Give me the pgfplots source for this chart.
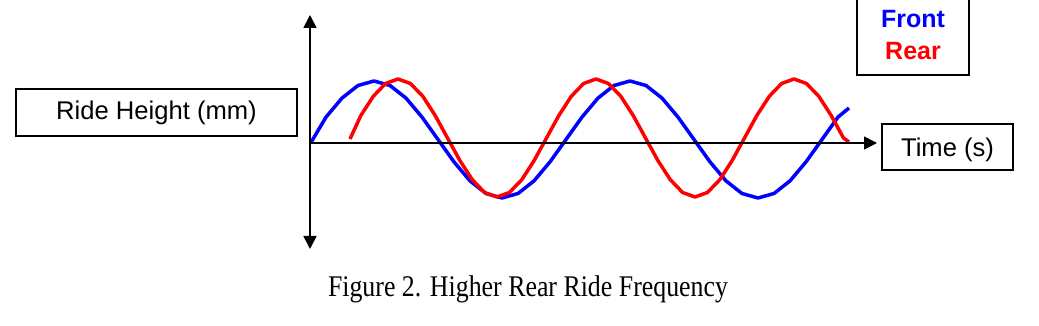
\documentclass[border=0pt]{standalone}
\usepackage{pgfplots}
\pgfplotsset{compat=1.18}
\usepackage{graphicx}
\usepackage{fontspec}
\setmainfont{Liberation Sans}
\newfontfamily\capfont{Liberation Serif}
\usetikzlibrary{arrows.meta}
\definecolor{fblue}{RGB}{0,0,255}
\definecolor{rred}{RGB}{255,0,0}
\begin{document}
\begin{tikzpicture}
\begin{axis}[
  scale only axis, width=1039pt, height=326pt,
  xmin=0, xmax=1039, ymin=-183, ymax=143,
  hide axis, clip=false,
]
% Front (blue)
\addplot[fblue, line width=3.5pt, line join=round] coordinates {
(311,0.5) (326,25.9) (342,44.9) (358,57.5) (374,62.0) (390,57.5) (406,44.9) (422,25.9)
(438,3.5) (454,-18.9) (470,-37.9) (486,-50.5) (502,-55.0) (518,-50.5) (534,-37.9) (550,-18.9)
(566,3.5) (582,25.9) (598,44.9) (614,57.5) (630,62.0) (646,57.5) (662,44.9) (678,25.9)
(694,3.5) (710,-18.9) (726,-37.9) (742,-50.5) (758,-55.0) (774,-50.5) (790,-37.9) (806,-18.9)
(822,3.5) (838,25.9) (849,35)
};
% Rear (red)
\addplot[rred, line width=3.5pt, line join=round] coordinates {
(350,4) (360.9,27.6) (373.3,46.7) (385.6,59.5) (398.0,64) (410.4,59.5) (422.8,46.7) (435.1,27.6)
(447.5,5) (459.9,-17.6) (472.3,-36.7) (484.6,-49.5) (497.0,-54) (509.4,-49.5) (521.8,-36.7) (534.1,-17.6)
(546.5,5) (558.9,27.6) (571.3,46.7) (583.6,59.5) (596.0,64) (608.4,59.5) (620.8,46.7) (633.1,27.6)
(645.5,5) (657.9,-17.6) (670.3,-36.7) (682.6,-49.5) (695.0,-54) (707.4,-49.5) (719.8,-36.7) (732.1,-17.6)
(744.5,5) (756.9,27.6) (769.3,46.7) (781.6,59.5) (794.0,64) (806.4,59.5) (818.8,46.7) (831.1,27.6)
(843.5,5) (849,1)
};
% axes with arrows
\draw[line width=1.6pt, {Triangle[length=13pt,width=13pt]}-{Triangle[length=13pt,width=13pt]}]
  (axis cs:310,-106) -- (axis cs:310,128);
\draw[line width=1.6pt, -{Triangle[length=13pt,width=13pt]}]
  (axis cs:310,0) -- (axis cs:877,0);
% boxes
\draw[line width=2pt] (axis cs:16,54) rectangle (axis cs:297,7);
\node[anchor=base, font=\fontsize{25.6}{30}\selectfont] at (axis cs:156.5,23) {Ride Height (mm)};
\draw[line width=2pt] (axis cs:882,19) rectangle (axis cs:1013,-27);
\node[anchor=base, font=\fontsize{25.6}{30}\selectfont] at (axis cs:947.5,-14) {Time (s)};
\draw[line width=2pt] (axis cs:857,145) -- (axis cs:857,68) -- (axis cs:969,68) -- (axis cs:969,145);
\node[anchor=base, font=\fontsize{25}{30}\selectfont\bfseries, text=fblue] at (axis cs:913,115) {Front};
\node[anchor=base, font=\fontsize{25}{30}\selectfont\bfseries, text=rred] at (axis cs:913,83) {Rear};
% caption
\node[anchor=base, inner sep=0pt] at (axis cs:528,-154) {\scalebox{0.862}[1]{\capfont\fontsize{30}{36}\selectfont Figure 2. Higher Rear Ride Frequency}};
\coordinate (ll) at (axis cs:0,-183);
\coordinate (ur) at (axis cs:1039,143);
\end{axis}
\pgfresetboundingbox
\path[use as bounding box] (ll) rectangle (ur);
\end{tikzpicture}
\end{document}
